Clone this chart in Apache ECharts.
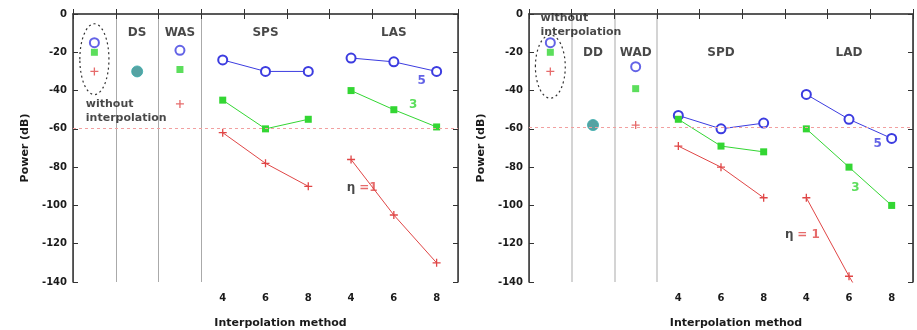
<!DOCTYPE html>
<html>
<head>
<meta charset="utf-8">
<script src="https://cdn.jsdelivr.net/npm/echarts@6/dist/echarts.min.js"></script>
<style>
  html, body { margin: 0; padding: 0; background: #fff; }
  #chart { width: 917px; height: 330px; }
</style>
</head>
<body>
<div id="chart"></div>
<script>
// x axis: 9 slots, ticks at the slot borders, labels in the slot centres
const slots = ['0', '1', '2', '3', '4', '5', '6', '7', '8']
const tickLabels = ['', '', '', '4', '6', '8', '4', '6', '8']
const spX = [3, 4, 5]
const laX = [6, 7, 8]

// left panel
const leftGroups = ['DS', 'WAS', 'SPS', 'LAS']
const leftGroupX = [1, 2, 4, 7]
const leftGroupY = -10
const leftNoInterp = [-15, -20, -30]   // blue, green, red
const leftDS = -30
const leftWAS = [-19, -29, -47]
const leftSPS = [[-24, -30, -30], [-45, -60, -55], [-62, -78, -90]]
const leftLAS = [[-23, -25, -30], [-40, -50, -59], [-76, -105, -130]]
const leftRef = -59.5

// right panel
const rightGroups = ['DD', 'WAD', 'SPD', 'LAD']
const rightGroupX = [1, 2, 4, 7]
const rightGroupY = -20.5
const rightNoInterp = [-15, -20, -30]
const rightDD = -58
const rightWAD = [-27.5, -39, -58]
const rightSPD = [[-53, -60, -57], [-55, -69, -72], [-69, -80, -96]]
const rightLAD = [[-42, -55, -65], [-60, -80, -100], [-96, -137, -175]]
const rightRef = -59

const BLUE = '#3c3ce0'
const GREEN = '#33d633'
const RED = '#e04646'
const TEAL = '#2c8c8c'
const INK = '#1a1a1a'
const FONT = 'DejaVu Sans'

const plusMark = 'path://M5,0L5,10M0,5L10,5'

const markStyles = [
  { symbol: 'emptyCircle', symbolSize: 9, itemStyle: { color: BLUE, borderWidth: 1.3 } },
  { symbol: 'rect', symbolSize: 7, itemStyle: { color: GREEN } },
  { symbol: plusMark, symbolSize: 8, itemStyle: { color: RED, borderColor: RED, borderWidth: 1.3 } }
]
const lineColors = [BLUE, GREEN, RED]

const grids = [
  { left: 73, top: 14, width: 385, height: 268, outerBoundsMode: 'none' },
  { left: 529, top: 14, width: 384, height: 268, outerBoundsMode: 'none' }
]

const xAxes = []
const yAxes = []
grids.forEach((g, gi) => {
  const light = gi === 0 ? '#aaa' : '#d4d4d4'
  xAxes.push({
    gridIndex: gi, type: 'category', data: slots, boundaryGap: true,
    axisLine: { lineStyle: { color: '#333', width: 1.5 } },
    axisTick: { show: true, inside: true, length: 5, interval: 0, lineStyle: { color: '#333' } },
    axisLabel: { interval: 0, margin: 11, color: INK, fontSize: 10, fontWeight: 'bold', fontFamily: FONT,
      formatter: (v, i) => tickLabels[i] },
    splitLine: { show: true, interval: (i) => i === 1 || i === 2 || i === 3,
      lineStyle: { color: light, width: gi === 0 ? 1 : 2 } },
    name: 'Interpolation method', nameLocation: 'middle', nameGap: 36,
    nameTextStyle: { color: INK, fontSize: 11, fontWeight: 'bold', fontFamily: FONT, padding: [0, 0, 0, 30] }
  })
  xAxes.push({
    gridIndex: gi, type: 'category', data: slots, boundaryGap: true, position: 'top',
    axisLine: { lineStyle: { color: '#555', width: 1.5 } },
    axisTick: { show: true, inside: true, length: 5, interval: 0, lineStyle: { color: '#333' } },
    axisLabel: { show: false },
    splitLine: { show: true, interval: (i) => i === 6, lineStyle: { color: '#999', width: 1 } }
  })
  // hidden continuous axis over the same span, for notes and the oval
  xAxes.push({ gridIndex: gi, type: 'value', min: 0, max: 9, show: false, splitLine: { show: false } })
  yAxes.push({
    gridIndex: gi, type: 'value', min: -140, max: 0, interval: 20,
    axisLine: { show: true, lineStyle: { color: '#333', width: 1.5 } },
    axisTick: { show: true, inside: true, length: 5, lineStyle: { color: '#333' } },
    axisLabel: { margin: 6, color: INK, fontSize: 10, fontWeight: 'bold', fontFamily: FONT },
    splitLine: { show: false },
    name: 'Power (dB)', nameLocation: 'middle', nameGap: 42, nameRotate: 90,
    nameTextStyle: { color: INK, fontSize: 11, fontWeight: 'bold', fontFamily: FONT }
  })
  yAxes.push({
    gridIndex: gi, type: 'value', min: -140, max: 0, interval: 20, position: 'right',
    axisLine: { show: true, lineStyle: { color: '#333', width: 1.5 } },
    axisTick: { show: true, inside: true, length: 5, lineStyle: { color: '#333' } },
    axisLabel: { show: false },
    splitLine: { show: false }
  })
})

const textStyle = { color: INK, fontSize: 12, fontWeight: 'bold', fontFamily: FONT }

function panelSeries(gi, d) {
  const ax = { xAxisIndex: gi * 3, yAxisIndex: gi * 2 }
  const axV = { xAxisIndex: gi * 3 + 2, yAxisIndex: gi * 2 }
  const out = []
  // points without interpolation and the weighted-average column
  for (let k = 0; k < 3; k++) {
    out.push(Object.assign({ type: 'scatter', z: 4, data: [[0, d.noInterp[k]], [2, d.wa[k]]] }, ax, markStyles[k]))
  }
  out.push(Object.assign({ type: 'scatter', z: 4, symbol: 'circle', symbolSize: 11,
    itemStyle: { color: TEAL, borderColor: '#3aa', borderWidth: 1 }, data: [[1, d.single]] }, ax))
  // interpolated curves
  ;[[spX, d.sp], [laX, d.la]].forEach(([xs, rows], r) => {
    rows.forEach((vals, k) => {
      const s = Object.assign({
        type: 'line', z: 3, showSymbol: true, clip: true,
        lineStyle: { color: lineColors[k], width: 1 },
        data: xs.map((x, i) => [x, vals[i]])
      }, ax, markStyles[k])
      if (r === 0 && k === 0) {
        s.markLine = {
          silent: true, symbol: 'none', label: { show: false },
          lineStyle: { color: '#f2a0a0', type: [3, 3], width: 1 },
          data: [{ yAxis: d.ref }]
        }
      }
      out.push(s)
    })
  })
  // group names
  out.push(Object.assign({
    type: 'scatter', symbolSize: 0, z: 5,
    label: { show: true, position: 'inside', formatter: (p) => p.name, ...textStyle },
    data: d.groups.map((n, i) => ({ name: n, value: [d.groupX[i], d.groupY] }))
  }, ax))
  // annotations
  out.push(Object.assign({
    type: 'scatter', symbolSize: 0, z: 5,
    label: { show: true, position: 'inside', formatter: (p) => p.data.text,
      fontFamily: FONT, fontSize: 11, fontWeight: 'bold',
      rich: { k: { color: INK, fontSize: 12, fontFamily: FONT },
              r: { color: RED, fontSize: 12, fontWeight: 'bold', fontFamily: FONT } } },
    data: d.notes.map((n) => ({ value: [n.x, n.y], text: n.text,
      label: { color: n.color, align: n.align || 'center', lineHeight: 14,
        fontSize: n.size || 11 } }))
  }, axV))
  // dotted oval round the reference points
  out.push(Object.assign({
    type: 'custom', z: 2,
    renderItem: (params, api) => {
      const c = api.coord([api.value(0), api.value(1)])
      const s = api.size([api.value(2), api.value(3)])
      return { type: 'ellipse', shape: { cx: c[0], cy: c[1], rx: s[0], ry: s[1] },
        style: { fill: null, stroke: '#333', lineWidth: 1.2, lineDash: [2, 3] } }
    },
    data: [d.oval]
  }, axV))
  return out
}

const leftNotes = [
  { x: 8.15, y: -35, text: '5', color: BLUE, size: 12 },
  { x: 7.95, y: -47.5, text: '3', color: GREEN, size: 12 },
  { x: 6.4, y: -90.7, text: '{k|η} {r|=1}', color: INK, align: 'left' },
  { x: 0.3, y: -50.5, text: 'without\ninterpolation', color: INK, align: 'left' }
]
const rightNotes = [
  { x: 8.17, y: -67.6, text: '5', color: BLUE, size: 12 },
  { x: 7.65, y: -91, text: '3', color: GREEN, size: 12 },
  { x: 6.0, y: -115.5, text: '{k|η} {r|= 1}', color: INK, align: 'left' },
  { x: 0.27, y: -6, text: 'without\ninterpolation', color: INK, align: 'left' }
]

const series = [].concat(
  panelSeries(0, { noInterp: leftNoInterp, wa: leftWAS, single: leftDS, sp: leftSPS, la: leftLAS,
    ref: leftRef, groups: leftGroups, groupX: leftGroupX, groupY: leftGroupY, notes: leftNotes,
    oval: [0.5, -23.6, 0.34, 18.5] }),
  panelSeries(1, { noInterp: rightNoInterp, wa: rightWAD, single: rightDD, sp: rightSPD, la: rightLAD,
    ref: rightRef, groups: rightGroups, groupX: rightGroupX, groupY: rightGroupY, notes: rightNotes,
    oval: [0.5, -27.5, 0.35, 16.5] })
)

const chart = echarts.init(document.getElementById('chart'), null, { renderer: 'canvas' })
chart.setOption({
  animation: false,
  backgroundColor: '#fff',
  grid: grids,
  xAxis: xAxes,
  yAxis: yAxes,
  series: series
})
</script>
</body>
</html>
